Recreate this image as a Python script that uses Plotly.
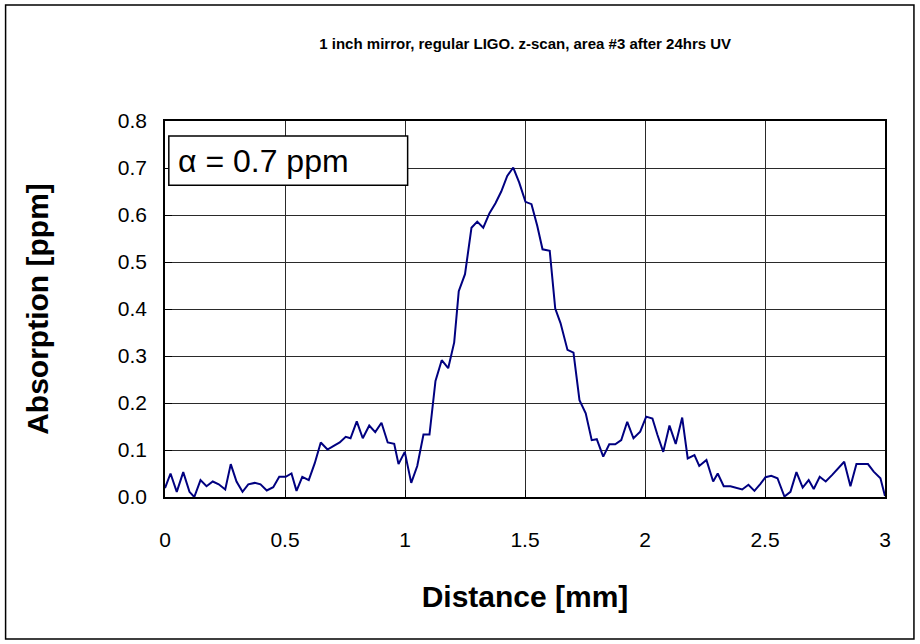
import plotly.graph_objects as go

title_text = "1 inch mirror, regular LIGO. z-scan, area #3 after 24hrs UV"
x_label = "Distance [mm]"
y_label = "Absorption [ppm]"
note_text = "α = 0.7 ppm"

distance_mm = [
    0.000, 0.023, 0.049, 0.076, 0.102, 0.122, 0.148, 0.173, 0.199, 0.224,
    0.251, 0.274, 0.298, 0.323, 0.347, 0.374, 0.398, 0.424, 0.451, 0.476,
    0.503, 0.527, 0.548, 0.572, 0.599, 0.624, 0.649, 0.677, 0.703, 0.728,
    0.753, 0.773, 0.799, 0.824, 0.851, 0.876, 0.902, 0.928, 0.955, 0.973,
    0.999, 1.026, 1.051, 1.077, 1.102, 1.127, 1.153, 1.180, 1.205, 1.224,
    1.250, 1.277, 1.301, 1.326, 1.352, 1.377, 1.401, 1.426, 1.451, 1.476,
    1.502, 1.527, 1.551, 1.573, 1.603, 1.626, 1.648, 1.677, 1.702, 1.727,
    1.753, 1.778, 1.799, 1.826, 1.851, 1.876, 1.901, 1.926, 1.952, 1.980,
    2.005, 2.031, 2.052, 2.076, 2.102, 2.128, 2.155, 2.178, 2.206, 2.226,
    2.256, 2.284, 2.303, 2.328, 2.356, 2.381, 2.405, 2.431, 2.456, 2.481,
    2.502, 2.526, 2.552, 2.581, 2.606, 2.631, 2.657, 2.682, 2.703, 2.728,
    2.753, 2.780, 2.805, 2.830, 2.856, 2.881, 2.906, 2.929, 2.953, 2.981,
    3.000,
]
absorption_ppm = [
    0.019, 0.050, 0.011, 0.053, 0.011, 0.000, 0.036, 0.023, 0.033, 0.027,
    0.016, 0.070, 0.033, 0.011, 0.027, 0.030, 0.027, 0.014, 0.021, 0.043,
    0.043, 0.050, 0.013, 0.043, 0.036, 0.072, 0.116, 0.101, 0.109, 0.116,
    0.128, 0.125, 0.161, 0.125, 0.152, 0.138, 0.158, 0.116, 0.113, 0.070,
    0.096, 0.030, 0.066, 0.133, 0.133, 0.247, 0.291, 0.274, 0.329, 0.438,
    0.474, 0.573, 0.586, 0.573, 0.604, 0.625, 0.650, 0.683, 0.701, 0.669,
    0.628, 0.623, 0.577, 0.527, 0.524, 0.401, 0.370, 0.313, 0.307, 0.206,
    0.178, 0.121, 0.123, 0.086, 0.112, 0.112, 0.121, 0.160, 0.125, 0.139,
    0.171, 0.167, 0.132, 0.096, 0.152, 0.113, 0.169, 0.082, 0.089, 0.066,
    0.079, 0.033, 0.050, 0.023, 0.023, 0.020, 0.016, 0.026, 0.013, 0.028,
    0.042, 0.045, 0.040, 0.001, 0.011, 0.053, 0.020, 0.036, 0.017, 0.043,
    0.033, 0.047, 0.062, 0.075, 0.023, 0.070, 0.070, 0.070, 0.054, 0.040,
    0.002,
]

x_ticks = [0, 0.5, 1, 1.5, 2, 2.5, 3]
x_tick_text = ["0", "0.5", "1", "1.5", "2", "2.5", "3"]
y_ticks = [0.0, 0.1, 0.2, 0.3, 0.4, 0.5, 0.6, 0.7, 0.8]
y_tick_text = ["0.0", "0.1", "0.2", "0.3", "0.4", "0.5", "0.6", "0.7", "0.8"]

FONT = "Liberation Sans, Arial, sans-serif"

fig = go.Figure()
fig.add_trace(go.Scatter(
    x=distance_mm, y=absorption_ppm, mode="lines",
    line=dict(color="#000080", width=2),
    showlegend=False, hoverinfo="x+y",
))

fig.update_layout(
    width=920, height=644,
    margin=dict(l=164.5, r=35, t=121, b=147),
    paper_bgcolor="white", plot_bgcolor="white",
    font=dict(family=FONT, color="black"),
    title=dict(text="<b>" + title_text + "</b>", x=0.5003, xref="paper",
               y=1 - 44 / 644, yanchor="middle", xanchor="center",
               font=dict(size=15, family=FONT, color="black")),
)
fig.update_xaxes(
    range=[0, 3], tickvals=x_ticks, ticktext=x_tick_text,
    showgrid=True, gridcolor="#2a2a2a", gridwidth=1,
    showline=True, linecolor="black", linewidth=1.5, mirror=True,
    ticks="inside", ticklen=7, tickcolor="black",
    tickfont=dict(size=21, family=FONT), ticklabelstandoff=23,
    zeroline=False,
    title=dict(text="<b>" + x_label + "</b>", font=dict(size=30, family=FONT), standoff=36),
)
fig.update_yaxes(
    range=[0, 0.8], tickvals=y_ticks, ticktext=y_tick_text,
    showgrid=True, gridcolor="#2a2a2a", gridwidth=1,
    showline=True, linecolor="black", linewidth=1.5, mirror=True,
    ticks="inside", ticklen=7, tickcolor="black",
    tickfont=dict(size=21, family=FONT), ticklabelstandoff=12,
    zeroline=False,
    title=dict(text="<b>" + y_label + "</b>", font=dict(size=30, family=FONT), standoff=60),
)

# outer chart frame
fig.add_shape(type="rect", xref="paper", yref="paper",
              x0=-0.2214, x1=1.0402, y0=-0.3777, y1=1.3085,
              line=dict(color="black", width=1.5), fillcolor="rgba(0,0,0,0)", layer="below")
# annotation box
fig.add_shape(type="rect", xref="paper", yref="paper",
              x0=0.0053, x1=0.337, y0=0.829, y1=0.960,
              line=dict(color="black", width=1.5), fillcolor="white", layer="above")
fig.add_annotation(text=note_text, xref="paper", yref="paper",
                   x=0.0146, y=0.8947, xanchor="left", yanchor="middle",
                   showarrow=False, font=dict(size=32, family=FONT, color="black"))

fig.write_html("out.html")
